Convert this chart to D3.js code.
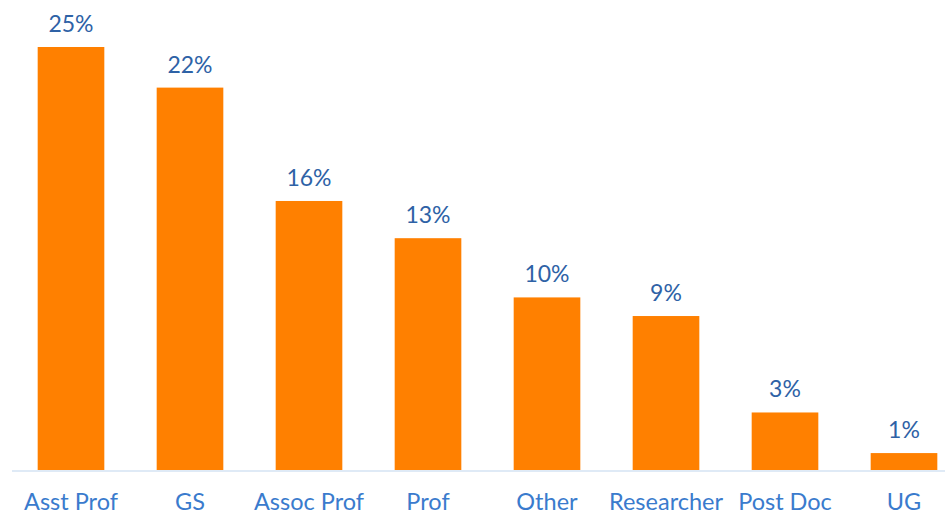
<!DOCTYPE html>
<html>
<head>
<meta charset="utf-8">
<script src="https://cdn.jsdelivr.net/npm/d3@7"></script>
<style>
  body { margin: 0; background: #fff; }
  svg { display: block; }
</style>
</head>
<body>
<div id="chart"></div>
<script>
// categories + values (labels are rounded)
var categories = ["Asst Prof", "GS", "Assoc Prof", "Prof", "Other", "Researcher", "Post Doc", "UG"];
var values = [25.0, 22.6, 15.9, 13.7, 10.2, 9.1, 3.4, 1.0];
var valueLabels = ["25%", "22%", "16%", "13%", "10%", "9%", "3%", "1%"];

var w = 945, h = 514;
var baseY = 470;

var svg = d3.select("#chart").append("svg")
    .attr("width", w)
    .attr("height", h);

var x = d3.scaleBand()
    .domain(categories)
    .range([11.5, 963.5])
    .paddingInner(0.44)
    .paddingOuter(0.22);

var y = d3.scaleLinear()
    .domain([0, 25])
    .range([baseY, 47]);

// baseline
svg.append("line")
    .attr("x1", 12).attr("x2", w)
    .attr("y1", baseY + 1).attr("y2", baseY + 1)
    .style("stroke", "#d5e3f3")
    .style("stroke-width", 1.5);

var data = categories.map(function(c, i) {
  return { cat: c, v: values[i], lab: valueLabels[i] };
});

svg.selectAll("rect.bar")
    .data(data)
    .enter()
    .append("rect")
    .attr("class", "bar")
    .attr("x", function(d) { return x(d.cat); })
    .attr("y", function(d) { return y(d.v); })
    .attr("width", x.bandwidth())
    .attr("height", function(d) { return baseY - y(d.v); })
    .style("fill", "#ff8000");

// value labels
svg.selectAll("text.val")
    .data(data)
    .enter()
    .append("text")
    .attr("class", "val")
    .attr("x", function(d) { return x(d.cat) + x.bandwidth() / 2; })
    .attr("y", function(d) { return y(d.v) - 15; })
    .style("text-anchor", "middle")
    .style("font-family", "Lato, 'Open Sans', sans-serif")
    .style("font-size", "23px")
    .style("fill", "#2e62a6")
    .text(function(d) { return d.lab; });

// category labels
svg.selectAll("text.cat")
    .data(data)
    .enter()
    .append("text")
    .attr("class", "cat")
    .attr("x", function(d) { return x(d.cat) + x.bandwidth() / 2; })
    .attr("y", 510)
    .style("text-anchor", "middle")
    .style("font-family", "Lato, 'Open Sans', sans-serif")
    .style("font-size", "23.5px")
    .style("fill", "#3a7bcd")
    .text(function(d) { return d.cat; });
</script>
</body>
</html>
